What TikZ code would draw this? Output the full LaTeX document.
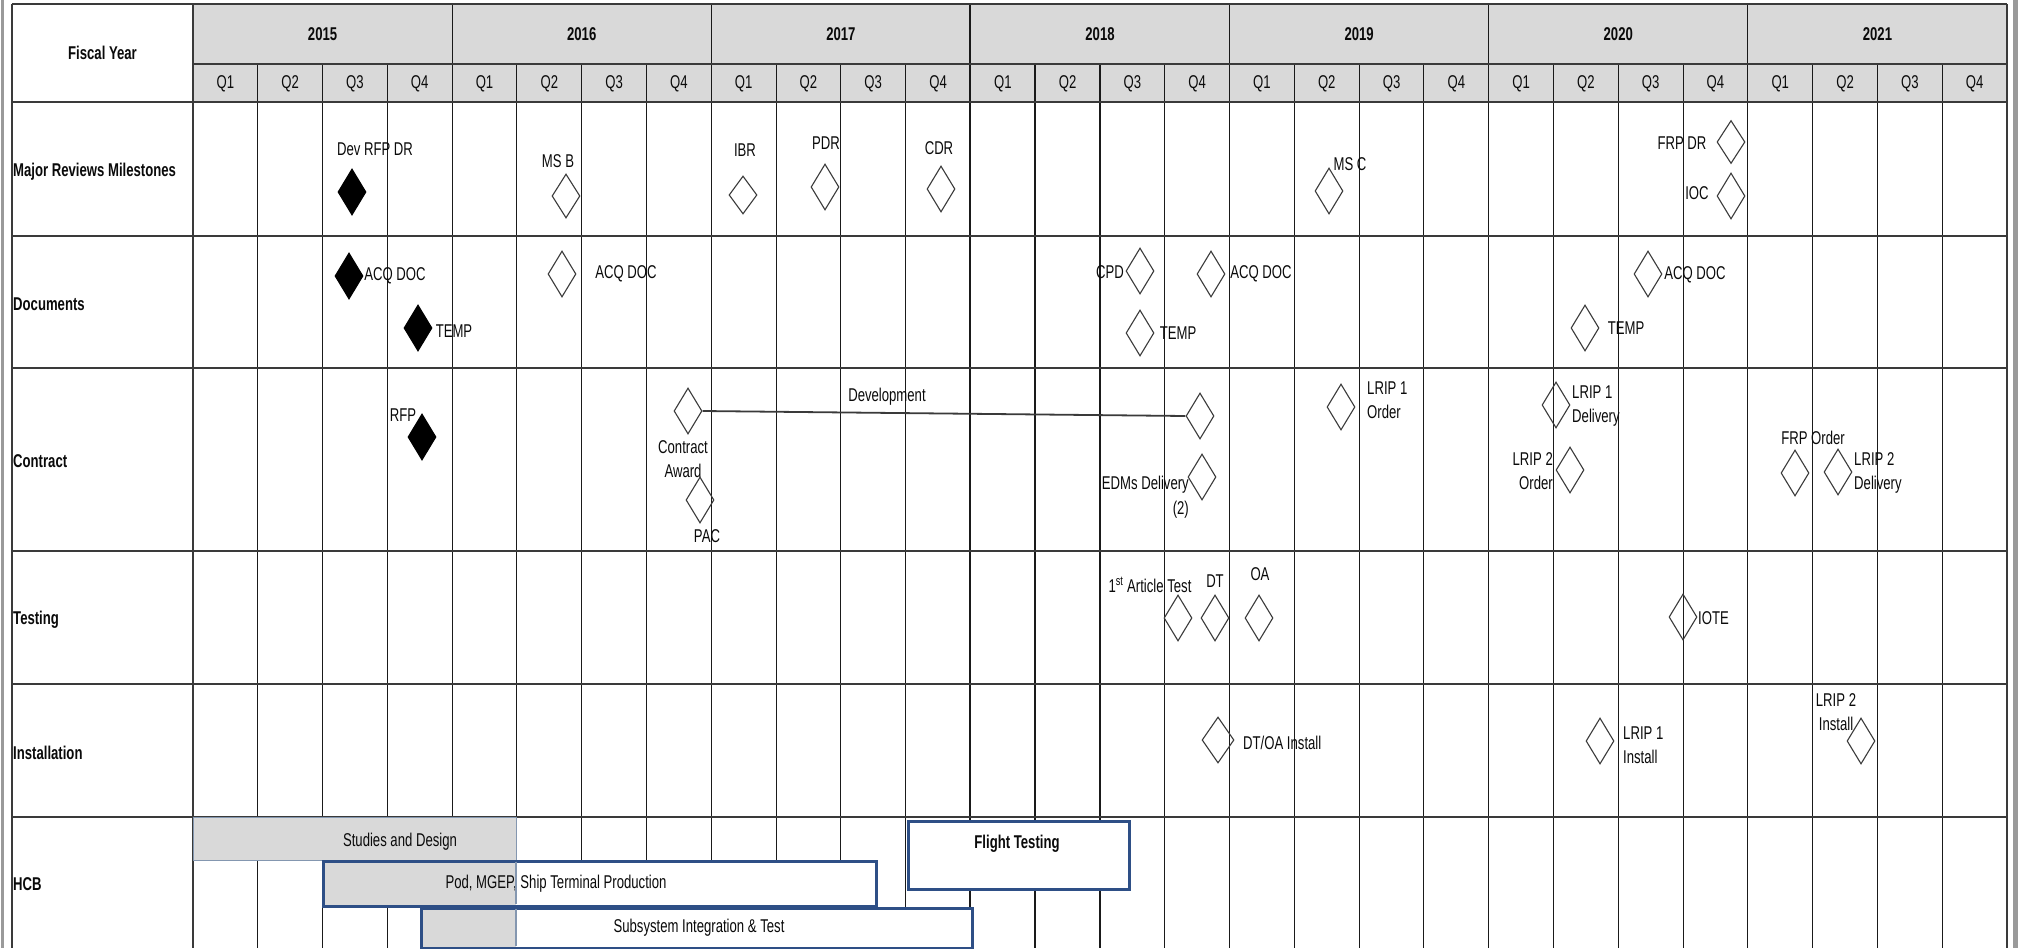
\documentclass[tikz,border=0pt]{standalone}
\usepackage{fontspec}
\setmainfont{Liberation Sans}[FakeStretch=0.71]
\usetikzlibrary{shapes.geometric}
\definecolor{hdrgray}{HTML}{D9D9D9}
\definecolor{gridline}{HTML}{1A1A1A}
\definecolor{rowline}{HTML}{3A3A3A}
\definecolor{framegray}{HTML}{9A9A9A}
\definecolor{navy}{HTML}{2E4F86}
\definecolor{barblue}{HTML}{8497B0}
\definecolor{txt}{HTML}{0A0A0A}
\begin{document}
\begin{tikzpicture}[x=1pt,y=-1pt,
  lbl/.style={font=\fontsize{18.5}{24.5}\selectfont, inner sep=0pt, text=txt},
  blbl/.style={font=\fontsize{18.5}{24.5}\selectfont\bfseries, inner sep=0pt, text=txt},
  mstone/.style={diamond, draw=rowline, line width=1.1pt, minimum width=28pt, minimum height=46pt, inner sep=0pt},
  mstonef/.style={mstone, fill=black, draw=black},
  vline/.style={draw=gridline, line width=1.1pt},
  hline/.style={draw=rowline, line width=2pt},
  devline/.style={draw=rowline, line width=1.8pt},
  hcbbar/.style={draw=navy, line width=2.6pt, inner sep=0pt, anchor=north west},
]
\useasboundingbox (0,0) rectangle (2021,948);
% window frame bars
\fill[framegray] (1,0) rectangle (3.5,948);
\fill[framegray] (2013,0) rectangle (2018,948);
% header fill
\fill[hdrgray] (193,4) rectangle (2007,102);
% vertical grid lines
\foreach \k in {1,...,27}{
  \pgfmathsetmacro\xx{193+64.7857*\k}
  \pgfmathtruncatemacro\m{mod(\k,4)}
  \ifnum\m=0
    \draw[vline] (\xx,4) -- (\xx,948);
  \else
    \draw[vline] (\xx,64) -- (\xx,948);
  \fi
}
\draw[vline, line width=2pt] (970.43,4) -- (970.43,948);
\draw[vline, line width=2pt] (1035.21,64) -- (1035.21,948);
\draw[vline, line width=1.5pt] (322.57,64) -- (322.57,948);
\draw[vline, line width=1.5pt] (387.36,64) -- (387.36,948);
% horizontal lines
\draw[hline] (12,4) -- (2007,4);
\draw[hline] (193,64) -- (2007,64);
\foreach \yy in {102,236,368,551,684,817}{
  \draw[hline] (12,\yy) -- (2007,\yy);
}
\draw[hline] (12,4) -- (12,948);
\draw[hline] (193,4) -- (193,948);
\draw[hline] (2007,4) -- (2007,948);
% header texts
\node[blbl] (fy) at (102.5,53) {Fiscal Year};
\foreach \i in {0,...,6}{
  \pgfmathsetmacro\xx{193+64.7857*(4*\i+2)}
  \pgfmathtruncatemacro\yr{2015+\i}
  \node[blbl] (y\i) at (\xx,34) {\yr};
}
\foreach \k in {0,...,27}{
  \pgfmathsetmacro\xx{193+64.7857*(\k+0.5)}
  \pgfmathtruncatemacro\qq{mod(\k,4)+1}
  \node[lbl] (q\k) at (\xx,84) {Q\qq};
}
% row labels
\node[blbl, anchor=west] (rmaj) at (13,172) {Major Reviews Milestones};
\node[blbl, anchor=west] (rdoc) at (13,304) {Documents};
\node[blbl, anchor=west] (rcon) at (13,461) {Contract};
\node[blbl, anchor=west] (rtest) at (13,620) {Testing};
\node[blbl, anchor=west] (rinst) at (13,753) {Installation};
\node[blbl, anchor=west] (rhcb) at (13,884) {HCB};
% Major reviews milestones
\node[mstonef] (devrfp) at (352,192) {};
\node[lbl] (devrfpT) at (375,149) {Dev RFP DR};
\node[mstone, minimum height=44pt] (msb) at (566,196) {};
\node[lbl] (msbT) at (558,161) {MS B};
\node[mstone, minimum height=38pt] (ibr) at (743,195) {};
\node[lbl] (ibrT) at (745,150) {IBR};
\node[mstone] (pdr) at (825,187) {};
\node[lbl] (pdrT) at (826,143) {PDR};
\node[mstone] (cdr) at (941,189) {};
\node[lbl] (cdrT) at (939,148) {CDR};
\node[mstone] (msc) at (1329,191) {};
\node[lbl] (mscT) at (1350,164) {MS C};
\node[mstone, minimum height=43pt] (frpdr) at (1731,142) {};
\node[lbl] (frpdrT) at (1682,143) {FRP DR};
\node[mstone] (ioc) at (1731,196) {};
\node[lbl] (iocT) at (1697,193) {IOC};
% Documents
\node[mstonef] (acq1) at (349,276) {};
\node[lbl] (acq1T) at (395,276) {ACQ DOC};
\node[mstonef] (temp1) at (418,328) {};
\node[lbl] (temp1T) at (454,331) {TEMP};
\node[mstone] (acq2) at (562,274) {};
\node[lbl] (acq2T) at (626,274) {ACQ DOC};
\node[mstone] (cpd) at (1140,271) {};
\node[lbl] (cpdT) at (1110,272) {CPD};
\node[mstone] (acq3) at (1211,274) {};
\node[lbl] (acq3T) at (1261,274) {ACQ DOC};
\node[mstone] (temp2) at (1140,333) {};
\node[lbl] (temp2T) at (1178,333) {TEMP};
\node[mstone] (acq4) at (1648,274) {};
\node[lbl] (acq4T) at (1695,275) {ACQ DOC};
\node[mstone] (temp3) at (1585,328) {};
\node[lbl] (temp3T) at (1626,328) {TEMP};
% Contract
\node[mstonef] (rfp) at (422,437) {};
\node[lbl] (rfpT) at (403,415) {RFP};
\node[mstone] (award) at (688,411) {};
\node[lbl, align=center] (awardT) at (683,459) {Contract\\Award};
\node[mstone] (pac) at (700,500) {};
\node[lbl] (pacT) at (707,536) {PAC};
\node[mstone] (edm1) at (1200,416) {};
\draw[devline] (award.east) -- (edm1.west);
\node[lbl] (devT) at (887,397) {Development};
\node[mstone] (edm2) at (1202,477) {};
\node[lbl, align=right, anchor=east] (edm2T) at (1189,497) {EDMs Delivery\\(2)};
\node[mstone] (lrip1o) at (1341,407) {};
\node[lbl, align=left, anchor=west] (lrip1oT) at (1367,400) {LRIP 1\\Order};
\node[mstone] (lrip1d) at (1556,405) {};
\node[lbl, align=left, anchor=west] (lrip1dT) at (1572,406) {LRIP 1\\Delivery};
\node[mstone] (lrip2o) at (1570,470) {};
\node[lbl, align=right, anchor=east] (lrip2oT) at (1553,471) {LRIP 2\\Order};
\node[mstone] (frpo) at (1795,473) {};
\node[lbl] (frpoT) at (1813,438) {FRP Order};
\node[mstone] (lrip2d) at (1838,472) {};
\node[lbl, align=left, anchor=west] (lrip2dT) at (1854,473) {LRIP 2\\Delivery};
% Testing
\node[mstone] (fat) at (1178,618) {};
\node[lbl] (fatT) at (1150,585) {1\textsuperscript{st} Article Test};
\node[mstone] (dt) at (1215,618) {};
\node[lbl] (dtT) at (1215,581) {DT};
\node[mstone] (oa) at (1259,618) {};
\node[lbl] (oaT) at (1260,574) {OA};
\node[mstone] (iote) at (1683,617) {};
\node[lbl, anchor=west] (ioteT) at (1698,618) {IOTE};
% Installation
\node[mstone, minimum width=32pt] (dtoa) at (1218,740) {};
\node[lbl, anchor=west] (dtoaT) at (1243,743) {DT/OA Install};
\node[mstone] (lrip1i) at (1600,741) {};
\node[lbl, align=left, anchor=west] (lrip1iT) at (1623,745) {LRIP 1\\Install};
\node[mstone] (lrip2i) at (1861,741) {};
\node[lbl, align=center] (lrip2iT) at (1836,712) {LRIP 2\\Install};
% HCB bars
\node[fill=hdrgray, draw=barblue, line width=1pt, inner sep=0pt, anchor=north west,
      minimum width=323pt, minimum height=43pt] (studies) at (193,817) {};
\node[lbl] (studiesT) at (400,842) {Studies and Design};
\fill[white] (322,860) rectangle (875,905);
\fill[hdrgray] (322,860) rectangle (516,905);
\node[hcbbar, minimum width=553pt, minimum height=45pt] (pod) at (322,860) {};
\node[lbl] (podT) at (556,884) {Pod, MGEP, Ship Terminal Production};
\fill[white] (420,907) rectangle (971,947);
\fill[hdrgray] (420,907) rectangle (516,947);
\node[hcbbar, minimum width=551pt, minimum height=40pt] (subsys) at (420,907) {};
\node[lbl] (subsysT) at (699,928) {Subsystem Integration \& Test};
\draw[barblue, line width=1.2pt] (516,861.5) -- (516,903.5);
\draw[barblue, line width=1.2pt] (516,908.5) -- (516,945.5);
\node[hcbbar, fill=white, minimum width=221pt, minimum height=68pt] (flight) at (907,820) {};
\node[blbl] (flightT) at (1017,844) {Flight Testing};
\end{tikzpicture}
\end{document}
